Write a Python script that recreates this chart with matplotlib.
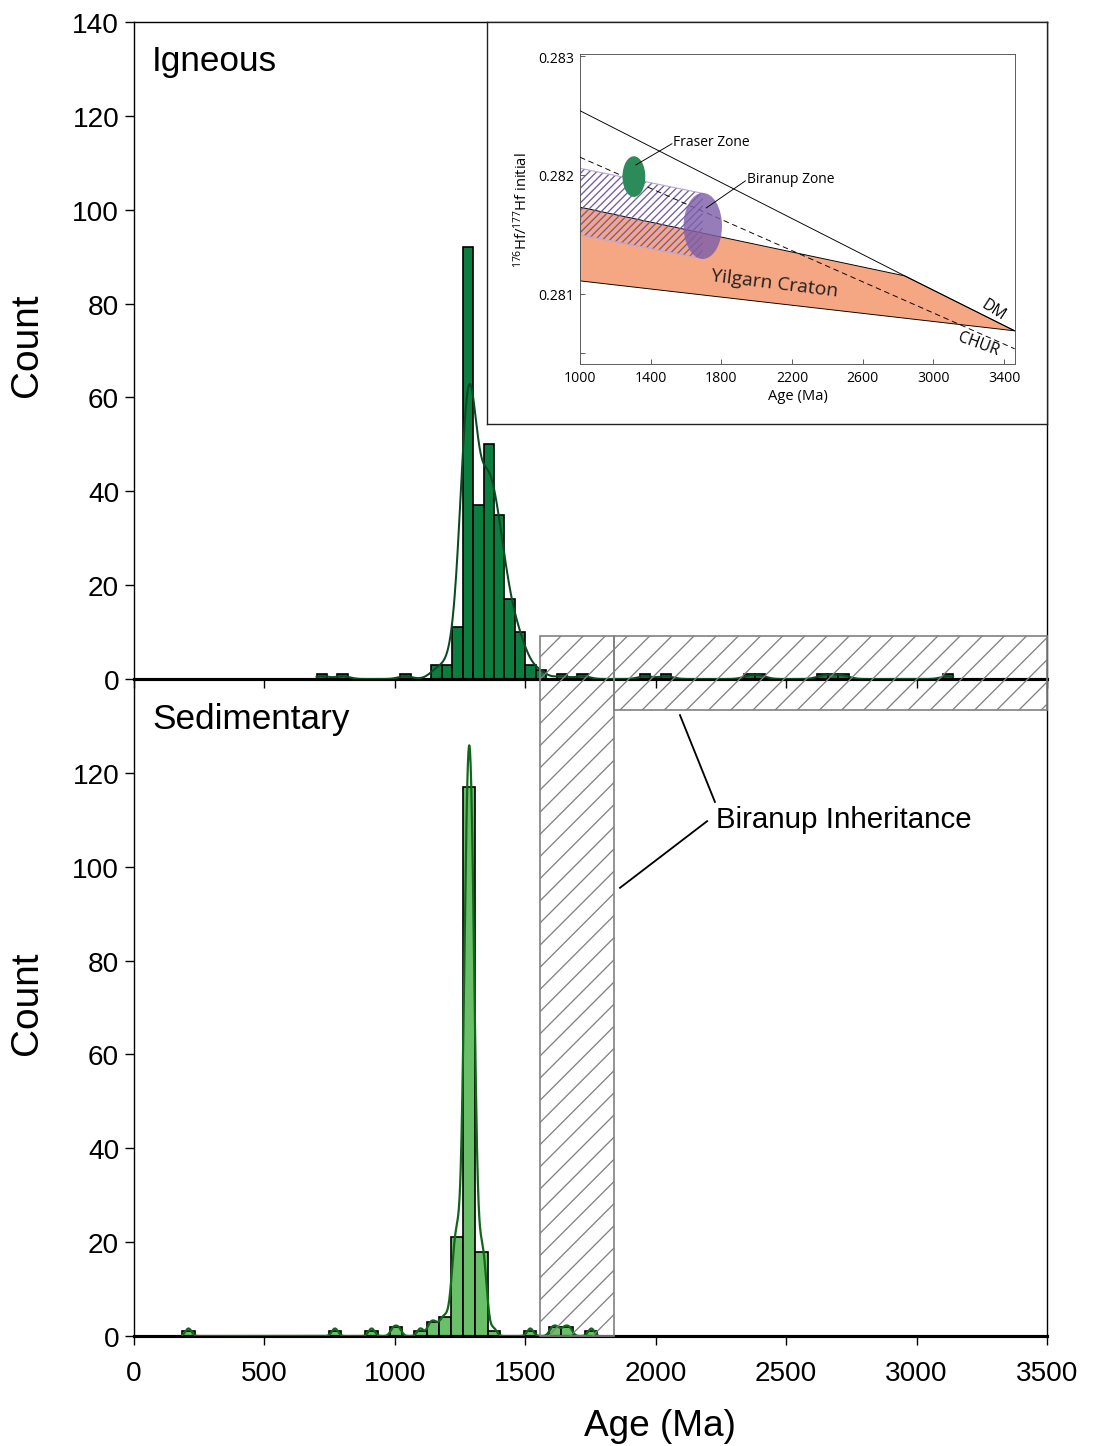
import numpy as np
import matplotlib
matplotlib.use("Agg")
import matplotlib.pyplot as plt
from matplotlib.patches import Rectangle, Ellipse, Polygon

plt.rcParams['font.family'] = ['Liberation Sans', 'DejaVu Sans']
plt.rcParams['mathtext.default'] = 'regular'
plt.rcParams['hatch.linewidth'] = 0.7

# ---- histogram data (bin left edges, counts) ----
top_bin_width = 40.0
top_bin_left = [700, 780, 1020, 1140, 1180, 1220, 1260, 1300, 1340, 1380, 1420,
                1460, 1500, 1540, 1620, 1700, 1940, 2020, 2340, 2380, 2620, 2660,
                2700, 3100]
top_counts = [1, 1, 1, 3, 3, 11, 92, 37, 50, 35, 17, 10, 3, 2, 1, 1, 1, 1, 1, 1,
              1, 1, 1, 1]

bot_bin_width = 46.8
bot_bin_left = [185.4, 747.0, 887.4, 981.0, 1074.6, 1121.4, 1168.2, 1215.0,
                1261.8, 1308.6, 1355.4, 1495.8, 1589.4, 1636.2, 1729.8]
bot_counts = [1, 1, 1, 2, 1, 3, 4, 21, 117, 18, 1, 1, 2, 2, 1]

# Biranup inheritance age window (Ma)
inherit_lo, inherit_hi = 1556, 1840

# ---- inset (Hf evolution) data ----
dm_age = [1000, 2838, 3460]
dm_hf = [0.28254, 0.281151, 0.280689]
chur_age = [1000, 3460]
chur_hf = [0.282149, 0.280538]
yil_top_age = [1000, 2838, 3460]
yil_top_hf = [0.281729, 0.281151, 0.280689]
yil_bot_age = [3460, 1000]
yil_bot_hf = [0.280689, 0.281109]
bir_age = [1000, 1695]
bir_top_hf = [0.282056, 0.281845]
bir_bot_hf = [0.281496, 0.281295]
fraser_center = (1305, 0.281986)
fraser_size = (129, 0.000342)
biranup_center = (1695, 0.281571)
biranup_size = (217, 0.000555)


def kde_counts(lefts, counts, width, bw, xs):
    # spread each bin's count evenly inside the bin, then gaussian kde scaled to counts
    pts = []
    for l, c in zip(lefts, counts):
        off = (np.arange(c) + 0.5) / c
        pts.extend(l + width * (0.075 + 0.85 * off))
    pts = np.asarray(pts)
    z = (xs[:, None] - pts[None, :]) / bw
    dens = np.exp(-0.5 * z ** 2).sum(axis=1) / (bw * np.sqrt(2 * np.pi))
    return dens * width


W, H = 1093, 1447
DPI = 133
fig = plt.figure(figsize=(W / DPI, H / DPI), dpi=DPI)


def fx(px):
    return px / W


def fy(py):
    return 1 - py / H


ax_bot = fig.add_axes([fx(134), fy(1337), 913 / W, 657 / H])
ax_top = fig.add_axes([fx(134), fy(680), 913 / W, 657 / H])

for ax in (ax_top, ax_bot):
    ax.set_xlim(0, 3500)
    ax.set_ylim(0, 140)
    for s in ('left', 'top', 'right'):
        ax.spines[s].set_linewidth(0.75)
    ax.spines['bottom'].set_linewidth(1.7)
    ax.set_xticks(np.arange(0, 3501, 500))
    ax.tick_params(direction='out', length=5, width=0.75, labelsize=15.2, pad=3)

ax_top.set_yticks(np.arange(0, 141, 20))
ax_top.tick_params(axis='x', labelbottom=False)
ax_bot.spines['top'].set_visible(False)
ax_bot.set_yticks(np.arange(0, 121, 20))
ax_bot.tick_params(axis='x', pad=8)

# top histogram
ax_top.bar(top_bin_left, top_counts, width=top_bin_width, align='edge',
           color='#0b7d3e', edgecolor='black', linewidth=0.9, zorder=2)
xs_top = np.linspace(min(top_bin_left), max(top_bin_left) + top_bin_width, 1200)
ax_top.plot(xs_top, kde_counts(top_bin_left, top_counts, top_bin_width, 27, xs_top),
            color='#0b4a22', lw=1.1, zorder=3)

# bottom histogram
ax_bot.bar(bot_bin_left, bot_counts, width=bot_bin_width, align='edge',
           color='#6abf69', edgecolor='black', linewidth=0.9, zorder=2)
xs_bot = np.linspace(min(bot_bin_left), max(bot_bin_left) + bot_bin_width, 1500)
ax_bot.plot(xs_bot, kde_counts(bot_bin_left, bot_counts, bot_bin_width, 11.7, xs_bot),
            color='#11661a', lw=1.2, zorder=3)

# hatched Biranup inheritance boxes (drawn in top-axes data units, spanning both panels)
r_top, r_mid, r_bot = 9.2, -6.6, -140
ax_top.add_patch(Rectangle((inherit_lo, r_bot), inherit_hi - inherit_lo, r_top - r_bot,
                           facecolor='none', edgecolor='#808080', hatch='//',
                           lw=0.9, clip_on=False, zorder=5))
ax_top.add_patch(Rectangle((inherit_hi, r_mid), 3500 - inherit_hi, r_top - r_mid,
                           facecolor='none', edgecolor='#808080', hatch='//',
                           lw=0.9, clip_on=False, zorder=5))
ax_top.plot([2093, 2227], [-7.7, -26.2], color='black', lw=1.0, clip_on=False, zorder=6)
ax_top.plot([1863, 2197], [-44.5, -30.3], color='black', lw=1.0, clip_on=False, zorder=6)
fig.text(fx(716), fy(820), 'Biranup Inheritance', fontsize=16, ha='left', va='center')

fig.text(fx(152), fy(61), 'Igneous', fontsize=19, ha='left', va='center')
fig.text(fx(152), fy(720), 'Sedimentary', fontsize=19, ha='left', va='center')
fig.text(fx(27), fy(345), 'Count', fontsize=21, rotation=90, ha='center', va='center')
fig.text(fx(27), fy(1003), 'Count', fontsize=21, rotation=90, ha='center', va='center')
fig.text(fx(660), fy(1427), 'Age (Ma)', fontsize=20, ha='center', va='center')

# ---- inset ----
ax_box = fig.add_axes([fx(487), fy(425), 560 / W, 402 / H])
ax_box.set_xticks([])
ax_box.set_yticks([])
for s in ax_box.spines.values():
    s.set_linewidth(0.75)
    s.set_color('#222222')

ax_in = fig.add_axes([fx(580), fy(365), 435 / W, 310 / H])
ax_in.set_xlim(1000, 3462)
ax_in.set_ylim(0.28041, 0.283017)
for s in ax_in.spines.values():
    s.set_linewidth(0.5)
    s.set_color('#555555')
ifont = ['Open Sans', 'DejaVu Sans']
ax_in.set_xticks(np.arange(1000, 3401, 400))
ax_in.set_xticklabels([str(v) for v in range(1000, 3401, 400)], family=ifont)
ax_in.set_yticks([0.2805, 0.281, 0.282, 0.283])
ax_in.set_yticklabels(['', '0.281', '0.282', '0.283'], family=ifont)
ax_in.tick_params(direction='in', length=2.5, width=0.5, labelsize=7.6, pad=3,
                  color='#555555')
ax_in.set_xlabel('Age (Ma)', fontsize=8, family=ifont, labelpad=2)
ax_in.set_ylabel(r'$^{176}$Hf/$^{177}$Hf initial', fontsize=8, family=ifont, labelpad=4)

ax_in.add_patch(Polygon(list(zip(yil_top_age + yil_bot_age, yil_top_hf + yil_bot_hf)),
                        closed=True, facecolor='#f5a683', edgecolor='black', lw=0.5,
                        zorder=1))
ax_in.add_patch(Polygon([(bir_age[0], bir_top_hf[0]), (bir_age[1], bir_top_hf[1]),
                         (bir_age[1], bir_bot_hf[1]), (bir_age[0], bir_bot_hf[0])],
                        closed=True, facecolor='none', edgecolor='#6f5aa6', hatch='//////',
                        lw=0, zorder=2))
ax_in.plot([bir_age[0], bir_age[1]], bir_top_hf, color='#b9a6d8', lw=0.6, zorder=2)
ax_in.plot([bir_age[0], bir_age[1]], bir_bot_hf, color='#b9a6d8', lw=0.6, zorder=2)
ax_in.plot(dm_age, dm_hf, color='black', lw=0.5, zorder=3)
ax_in.plot(chur_age, chur_hf, color='black', lw=0.5, dashes=(6, 4), zorder=3)
ax_in.add_patch(Ellipse(fraser_center, fraser_size[0], fraser_size[1],
                        facecolor='#2b8c5a', edgecolor='none', zorder=4))
ax_in.add_patch(Ellipse(biranup_center, biranup_size[0], biranup_size[1],
                        facecolor='#7f60aa', edgecolor='none', alpha=0.82, zorder=4))

ax_in.plot([1520, 1316], [0.282262, 0.282084], color='black', lw=0.5, zorder=5)
ax_in.text(1528, 0.282277, 'Fraser Zone', fontsize=7.5, family=ifont, ha='left',
           va='center')
ax_in.plot([1936, 1715], [0.28195, 0.281723], color='black', lw=0.5, zorder=5)
ax_in.text(1947, 0.281966, 'Biranup Zone', fontsize=7.5, family=ifont, ha='left',
           va='center')
ax_in.text(2101, 0.281092, 'Yilgarn Craton', fontsize=10.5, family=ifont,
           rotation=-7, ha='center', va='center', color='#231f20', zorder=5)
ax_in.text(3338, 0.280866, 'DM', fontsize=8.5, family=ifont, rotation=-33,
           ha='center', va='center', zorder=5)
ax_in.text(3252, 0.28058, 'CHUR', fontsize=8.5, family=ifont, rotation=-20,
           ha='center', va='center', zorder=5)

fig.savefig('out.png', dpi=DPI)
